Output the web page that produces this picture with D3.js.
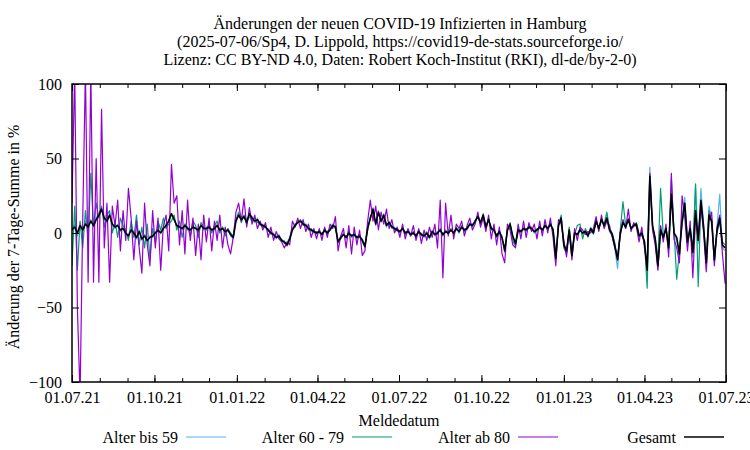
<!DOCTYPE html>
<html><head><meta charset="utf-8">
<script src="https://cdn.jsdelivr.net/npm/d3@7"></script>
<style>
body{margin:0;background:#fff;}
text{font-family:"Liberation Serif","Times New Roman",serif;fill:#000;}
</style></head>
<body><svg id="c" width="750" height="450"></svg>
<script>
const titleLines = [
  "Änderungen der neuen COVID-19 Infizierten in Hamburg",
  "(2025-07-06/Sp4, D. Lippold, https://covid19-de-stats.sourceforge.io/",
  "Lizenz: CC BY-ND 4.0, Daten: Robert Koch-Institut (RKI), dl-de/by-2-0)"
];
const yLabel = "Änderung der 7-Tage-Summe in %";
const xLabel = "Meldedatum";
const startDate = "2021-07-01";
const endDate = "2023-07-01";
const stepDays = 3;
const yTicks = [-100, -50, 0, 50, 100];
const seriesNames = ["Alter bis 59", "Alter 60 - 79", "Alter ab 80", "Gesamt"];
const seriesColors = ["#56b4e9", "#009e73", "#9400d3", "#000000"];

const bis59 = [
 3,6,-2,7,1,8,3,9,4,10,
 13,17,9,7,13,5,3,6,1,4,
 -1,-1,3,1,-4,2,-5,-1,-6,-2,
 -3,1,1,1,4,4,9,12,10,4,
 5,2,6,2,3,3,4,1,6,2,
 4,3,3,2,6,1,4,0,3,-2,-4,
 9,11,10,12,6,12,11,7,10,5,
 6,3,3,-1,0,-4,-1,-6,-5,-9,
 -3,3,4,8,7,7,4,4,1,2,
 -1,2,-2,3,-1,3,4,5,-7,-2,
 0,-4,1,-3,0,-4,-1,-6,-10,4,
 9,17,5,15,7,13,4,8,3,4,
 1,2,2,1,0,0,-1,-1,0,0,
 -3,1,-4,2,-2,1,1,0,0,1,
 1,1,2,2,3,3,2,7,4,9,
 10,8,11,5,8,4,1,-1,0,-2,
 -13,3,5,-3,-8,3,0,4,1,5,
 2,2,1,5,1,6,2,7,1,-19,
 6,11,-9,-13,3,-17,1,-2,3,-1,
 2,-3,4,-1,9,2,10,4,11,1,
 -2,-11,-24,1,8,3,10,2,6,5,
 -3,1,-8,-28,44,6,-6,-24,4,-4,
 4,-12,30,-2,-5,-16,12,24,-8,5,
 -16,32,-7,30,6,-24,18,10,-20,5,26,-10,-12
];
const a60bis79 = [
 -22,18,-25,8,-10,15,-5,40,5,20,
 10,18,4,12,15,0,8,-3,10,5,
 2,-5,8,-3,12,-8,4,-10,6,-17,
 3,-6,8,2,10,3,6,8,12,2,
 8,-3,6,4,-2,8,5,-3,7,4,
 2,6,0,5,8,0,4,-2,3,0,-2,
 9,14,7,12,9,11,8,10,7,6,
 4,5,1,1,-2,-2,-3,-4,-7,-7,
 -3,3,6,7,9,5,6,2,3,0,
 1,0,0,1,1,3,6,3,-5,-4,
 -1,-2,-1,-1,-2,-2,-3,-4,-8,2,
 11,14,7,13,9,10,6,6,5,2,
 3,0,4,-1,2,-2,1,-3,2,-2,
 -1,-1,-2,0,0,-1,3,-2,2,-1,
 3,-1,4,0,5,1,4,5,6,7,
 12,6,13,3,10,2,3,-3,2,-4,
 -10,1,7,-5,-9,1,2,2,3,3,
 4,0,3,3,3,4,4,5,3,-15,
 4,12,-10,-14,4,-12,-1,5,6,-4,
 3,-1,2,1,7,4,8,6,14,3,
 0,-7,-18,2,21,5,8,4,4,7,
 -1,-2,-5,-37,35,4,-3,-18,30,-2,
 2,-8,36,1,-31,-12,6,18,-4,2,
 -10,33,-36,20,2,-16,15,6,-14,0,8,-6,-8
];
const ab80 = [
 20,110,-50,-110,10,110,-33,110,-33,50,
 -33,83,-10,20,-33,18,5,22,-12,15,
 -5,30,10,-18,8,-10,-27,20,-8,-22,
 15,-10,10,-25,5,12,-12,46,20,25,
 -8,15,-14,22,-5,10,-15,6,-18,12,
 -6,10,-12,8,-5,12,-10,4,-8,-14,-3,
 14,20,8,23,4,17,6,12,3,8,
 2,7,-3,4,-5,1,-4,-6,-10,-6,
 -8,8,4,10,3,9,1,6,-3,3,
 -4,3,-5,4,-3,6,3,11,-12,-2,
 3,-10,5,-14,4,-8,2,-15,-12,8,
 22,8,18,2,14,6,16,3,9,0,
 4,-3,6,-4,3,-2,5,-5,3,-7,
 2,-5,4,-3,6,-10,22,-30,20,-2,
 12,-4,6,3,8,-2,5,10,2,6,
 14,4,10,1,12,-4,6,-8,4,-14,
 -20,6,2,-8,-10,6,-4,8,-3,7,
 1,6,-4,8,-2,9,0,10,-3,-22,
 9,6,-5,-16,1,-18,3,-5,4,2,
 -1,1,0,3,11,1,12,3,8,5,
 -3,-10,-15,-2,9,3,16,1,7,4,
 -6,4,-10,-22,40,2,-8,-25,5,-6,
 6,-16,40,-4,-10,-20,25,10,-12,8,
 -30,10,-4,18,0,-26,8,14,-22,4,12,-14,-34
];
const gesamt = [
 2,4,0,5,2,6,4,8,5,9,
 12,16,10,8,12,6,4,5,2,3,
 0,-2,2,0,-3,1,-4,-2,-5,-3,
 -2,0,2,0,3,5,8,13,9,5,
 4,3,5,3,2,4,3,2,5,3,
 3,4,2,3,5,2,3,1,2,-1,-3,
 8,12,9,11,7,13,10,8,9,6,
 5,4,2,0,-1,-3,-2,-5,-6,-8,
 -4,2,5,7,8,6,5,3,2,1,
 0,1,-1,2,0,2,5,4,-6,-3,
 -1,-3,0,-2,-1,-3,-2,-5,-9,3,
 10,16,6,14,8,12,5,7,4,3,
 2,1,3,0,1,-1,0,-2,1,-1,
 -2,0,-3,1,-1,0,2,-1,1,0,
 2,0,3,1,4,2,3,6,5,8,
 11,7,12,4,9,3,2,-2,1,-3,
 -12,2,6,-2,-7,2,1,3,2,4,
 3,1,2,4,2,5,3,6,2,-17,
 5,10,-8,-12,2,-15,0,-1,2,0,
 1,-2,3,0,8,3,9,5,10,2,
 -1,-9,-18,0,7,4,9,3,5,6,
 -2,0,-6,-25,38,5,-4,-22,2,-3,
 3,-10,26,0,-3,-14,8,20,-6,3,
 -13,15,-5,22,4,-20,12,8,-18,2,10,-8,-10
];
const allSeries = [bis59, a60bis79, ab80, gesamt];

const svg = d3.select("#c");
const L = 72, R = 726, T = 84, B = 382;
const parse = d3.timeParse("%Y-%m-%d");
const d0 = parse(startDate), d1 = parse(endDate);
const x = d3.scaleTime().domain([d0, d1]).range([L, R]);
const y = d3.scaleLinear().domain([-100, 100]).range([B, T]);

// title
svg.append("g").selectAll("text").data(titleLines).join("text")
  .attr("x", 400).attr("y", (d, i) => 29 + i * 18)
  .attr("text-anchor", "middle").style("font-size", "16px").text(d => d);

// clip
svg.append("defs").append("clipPath").attr("id", "pc")
  .append("rect").attr("x", L).attr("y", T).attr("width", R - L).attr("height", B - T);

const line = d3.line().x(d => x(d[0])).y(d => y(d[1]));
const g = svg.append("g").attr("clip-path", "url(#pc)");
allSeries.forEach((s, k) => {
  const pts = s.map((v, i) => [d3.timeDay.offset(d0, i * stepDays), v]);
  g.append("path").datum(pts).attr("d", line).attr("fill", "none")
    .attr("stroke", seriesColors[k]).attr("stroke-width", k === 3 ? 1.6 : 1.2)
    .attr("stroke-linejoin", "round");
});

// axes
const fmt = d3.timeFormat("%d.%m.%y");
const majors = d3.timeMonth.every(3).range(d0, d3.timeDay.offset(d1, 1));
const minors = d3.timeMonth.every(1).range(d0, d3.timeDay.offset(d1, 1));

const axBottom = svg.append("g").attr("transform", `translate(0,${B})`)
  .call(d3.axisBottom(x).tickValues(majors).tickFormat(fmt).tickSize(-7).tickPadding(10));
const axBottomMinor = svg.append("g").attr("transform", `translate(0,${B})`)
  .call(d3.axisBottom(x).tickValues(minors).tickFormat("").tickSize(-4));
const axTop = svg.append("g").attr("transform", `translate(0,${T})`)
  .call(d3.axisTop(x).tickValues(majors).tickFormat("").tickSize(-7));
const axTopMinor = svg.append("g").attr("transform", `translate(0,${T})`)
  .call(d3.axisTop(x).tickValues(minors).tickFormat("").tickSize(-4));
const axLeft = svg.append("g").attr("transform", `translate(${L},0)`)
  .call(d3.axisLeft(y).tickValues(yTicks).tickFormat(d3.format("d")).tickSize(-7).tickPadding(10));
const axRight = svg.append("g").attr("transform", `translate(${R},0)`)
  .call(d3.axisRight(y).tickValues(yTicks).tickFormat("").tickSize(-7));
[axBottom, axBottomMinor, axTop, axTopMinor, axLeft, axRight].forEach(a => {
  a.select(".domain").remove();
  a.selectAll("line").attr("stroke", "#000").attr("stroke-width", 1);
  a.selectAll("text").style("font-size", "16px").attr("fill", "#000")
    .style("font-family", "'Liberation Serif', serif");
});

svg.append("rect").attr("x", L).attr("y", T).attr("width", R - L).attr("height", B - T)
  .attr("fill", "none").attr("stroke", "#000").attr("stroke-width", 1.5);

// axis labels
svg.append("text").attr("transform", `translate(19,237) rotate(-90)`)
  .attr("text-anchor", "middle").style("font-size", "16px").text(yLabel);
svg.append("text").attr("x", 399).attr("y", 426).attr("text-anchor", "middle")
  .style("font-size", "16px").text(xLabel);

// legend
const legX = [178, 344, 510, 676];
const lg = svg.append("g");
seriesNames.forEach((n, k) => {
  lg.append("text").attr("x", legX[k]).attr("y", 443).attr("text-anchor", "end")
    .style("font-size", "16px").text(n);
  lg.append("line").attr("x1", legX[k] + 8).attr("x2", legX[k] + 48)
    .attr("y1", 437).attr("y2", 437).attr("stroke", seriesColors[k])
    .attr("stroke-width", k === 3 ? 1.6 : 1.2);
});
</script></body></html>
